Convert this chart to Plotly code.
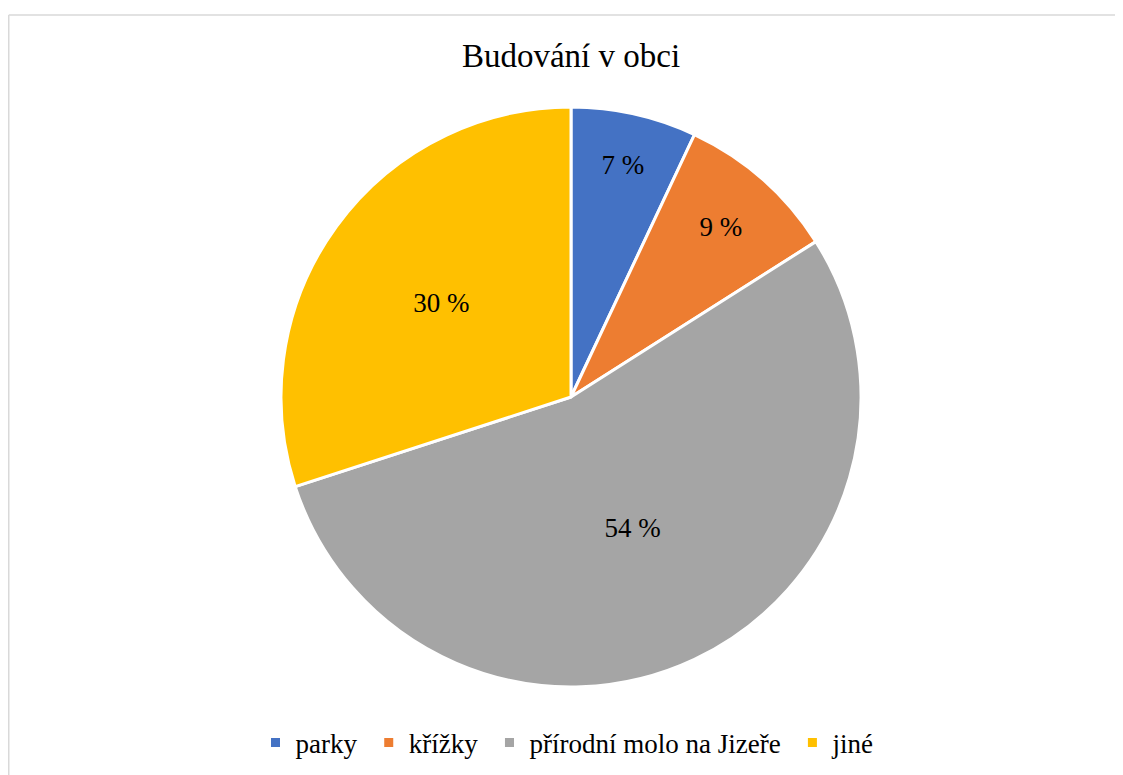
import plotly.graph_objects as go

categories = ["parky", "křížky", "přírodní molo na Jizeře", "jiné"]
values = [7, 9, 54, 30]
colors = ["#4472C4", "#ED7D31", "#A5A5A5", "#FFC000"]
title_text = "Budování v obci"

W, H = 1123, 775
OFF = 8  # page body margin offset
cx, cy, R = 571 - OFF, 397 - OFF, 290

NBSP = "\u00a0"
legend_names = [c + NBSP for c in categories]

fig = go.Figure(go.Pie(
    labels=legend_names,
    values=values,
    sort=False,
    direction="clockwise",
    rotation=0,
    marker=dict(colors=colors, line=dict(color="white", width=3)),
    texttemplate="%{value} %",
    textposition="inside",
    insidetextorientation="horizontal",
    textfont=dict(family="Liberation Serif", size=27, color="black"),
    hoverinfo="label+value",
    domain=dict(x=[(cx - R) / W, (cx + R) / W], y=[1 - (cy + R) / H, 1 - (cy - R) / H]),
))

fig.update_layout(
    width=W, height=H,
    margin=dict(l=0, r=0, t=0, b=0),
    paper_bgcolor="white",
    font=dict(family="Liberation Serif", color="black"),
    title=dict(text=title_text, x=cx / W, xanchor="center", y=1 - (55 - OFF) / H, yanchor="middle",
               font=dict(family="Liberation Serif", size=33, color="black")),
    legend=dict(orientation="h", x=(571 - OFF) / W, xanchor="center", y=1 - (743 - OFF) / H, yanchor="middle",
                font=dict(family="Liberation Serif", size=27, color="black"),
                itemclick=False, traceorder="normal"),
    shapes=[
        dict(type="line", xref="paper", yref="paper", x0=0.75 / W, x1=1.01,
             y0=1 - (15 - OFF) / H, y1=1 - (15 - OFF) / H,
             line=dict(color="#D9D9D9", width=1.5)),
        dict(type="line", xref="paper", yref="paper", x0=0.75 / W, x1=0.75 / W,
             y0=1 - (15 - OFF) / H, y1=-0.01,
             line=dict(color="#D9D9D9", width=1.5)),
    ],
)

fig.write_html("out.html")
